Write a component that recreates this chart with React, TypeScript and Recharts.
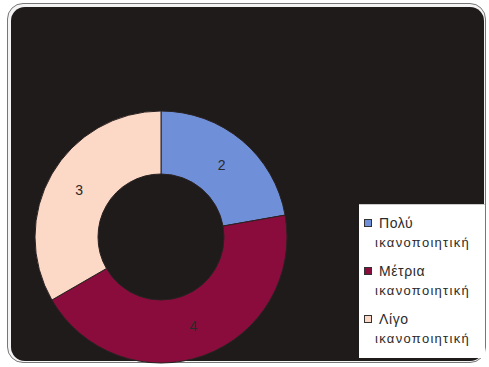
import React from 'react';
import { PieChart, Pie, Cell, Legend } from 'recharts';

const categories = ['Πολύ ικανοποιητική', 'Μέτρια ικανοποιητική', 'Λίγο ικανοποιητική'];
const counts = [2, 4, 3];
const colors = ['#6f90d8', '#890c3c', '#fcd8c6'];

const data = categories.map((name, i) => ({ name, value: counts[i] }));

const RAD = Math.PI / 180;

function renderLabel(props: any) {
  const { cx, cy, midAngle, innerRadius, outerRadius, value } = props;
  const r = (innerRadius + outerRadius) / 2;
  const x = cx + r * Math.cos(-midAngle * RAD);
  const y = cy + r * Math.sin(-midAngle * RAD);
  return (
    <text x={x} y={y} fill="#2a2a2a" textAnchor="middle" dominantBaseline="central" fontSize={14} fontFamily="Liberation Sans, Arial, sans-serif">
      {value}
    </text>
  );
}

function LegendBox(props: any) {
  const payload = [...(props.payload || [])].sort(
    (a: any, b: any) => categories.indexOf(a.value) - categories.indexOf(b.value)
  );
  return (
    <div style={{ fontFamily: 'Liberation Sans, Arial, sans-serif', fontSize: 13, color: '#2b2b2b', paddingTop: 8 }}>
      {payload.map((entry: any, i: number) => {
        const [first, ...rest] = String(entry.value).split(' ');
        return (
          <div key={i} style={{ height: 48 }}>
            <div style={{ display: 'flex', alignItems: 'center', height: 20, paddingLeft: 5 }}>
              <span style={{ display: 'inline-block', width: 6, height: 6, background: entry.color, border: '1px solid #333', marginRight: 7 }} />
              <span style={{ fontSize: 14, letterSpacing: 0.6 }}>{first}</span>
            </div>
            <div style={{ height: 20, lineHeight: '20px', paddingLeft: 16, letterSpacing: 1.3 }}>{rest.join(' ')}</div>
          </div>
        );
      })}
    </div>
  );
}

export default function App() {
  return (
    <div style={{ position: 'fixed', left: 0, top: 0, width: 489, height: 367, background: '#fff' }}>
      <div style={{ position: 'absolute', left: 7, top: 3, width: 477, height: 358, border: '1px solid #777', borderRadius: 16, background: '#f4f4f4' }}>
        <div style={{ position: 'absolute', left: 3, top: 3, right: 1, bottom: 1, borderRadius: 14, background: '#1f1b1b' }} />
      </div>
      <div style={{ position: 'absolute', left: 0, top: 0 }}>
        <PieChart width={489} height={367} margin={{ top: 0, right: 0, bottom: 0, left: 0 }}>
          <Pie
            data={data}
            dataKey="value"
            nameKey="name"
            cx={161}
            cy={237}
            innerRadius={63}
            outerRadius={126}
            startAngle={90}
            endAngle={-270}
            stroke="#2a2222"
            strokeWidth={1}
            label={renderLabel}
            labelLine={false}
            isAnimationActive={false}
          >
            {data.map((d, i) => (
              <Cell key={d.name} fill={colors[i]} />
            ))}
          </Pie>
          <Legend
            layout="vertical"
            content={<LegendBox />}
            wrapperStyle={{ position: 'absolute', left: 359, top: 204, width: 126, height: 153, background: '#fff', borderTop: '1px solid #ccc' }}
          />
        </PieChart>
      </div>
    </div>
  );
}
